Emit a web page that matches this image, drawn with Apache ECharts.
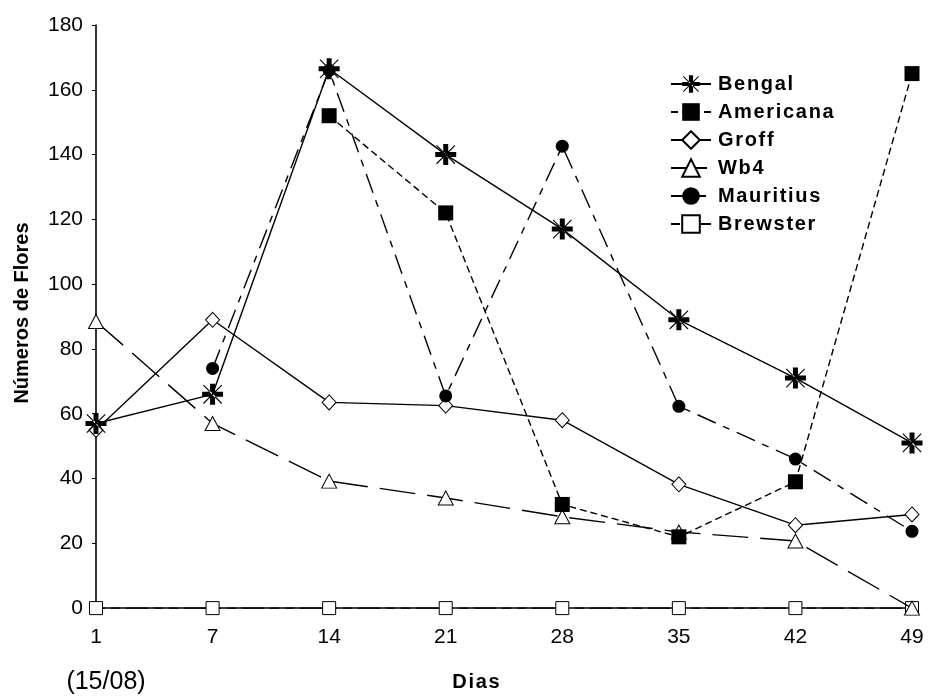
<!DOCTYPE html>
<html>
<head>
<meta charset="utf-8">
<script src="https://cdn.jsdelivr.net/npm/echarts@6/dist/echarts.min.js"></script>
<style>html,body{margin:0;padding:0;background:#fff;}#c{width:928px;height:697px;}</style>
</head>
<body>
<div id="c"></div>
<script>
const days = ['1', '7', '14', '21', '28', '35', '42', '49'];
const yTicks = [0, 20, 40, 60, 80, 100, 120, 140, 160, 180];
const bengal = [57, 66, 166.5, 140, 117, 89, 71, 51];
const americana = [null, null, 152, 122, 32, 22, 39, 165];
const groff = [55, 89, 63.5, 62.5, 58, 38.2, 25.6, 28.9];
const wb4 = [88.5, 57, 39.2, 34, 28.2, 23.5, 20.7, 0];
const mauritius = [null, 74, 166, 65.5, 142.6, 62.3, 46, 23.7];
const brewster = [0, 0, 0, 0, 0, 0, 0, 0];

const FONT = '"Liberation Sans", Arial, Helvetica, sans-serif';
const starPath = 'path://M-1.9,-8L1.9,-8L1.9,-1.9L8,-1.9L8,1.9L1.9,1.9L1.9,8L-1.9,8L-1.9,1.9L-8,1.9L-8,-1.9L-1.9,-1.9Z' +
  'M-6.7,-7.3L-7.3,-6.7L6.7,7.3L7.3,6.7Z M6.7,-7.3L7.3,-6.7L-6.7,7.3L-7.3,6.7Z';
const spaced = s => s.split('').join('\u200A');

function mk(name, data, symbol, size, fill, dash, z) {
  return {
    name: name, type: 'line', data: data, symbol: symbol, symbolSize: size,
    showAllSymbol: true, connectNulls: false, clip: false, z: z,
    symbolKeepAspect: true,
    lineStyle: { color: '#000', width: 1.4, type: dash },
    itemStyle: { color: fill, borderColor: '#000', borderWidth: fill === '#fff' ? 1 : 0 },
    emphasis: { disabled: true },
    animation: false
  };
}

const chart = echarts.init(document.getElementById('c'), null, { renderer: 'canvas' });
chart.setOption({
  backgroundColor: '#fff',
  animation: false,
  grid: { left: 96, right: 16, top: 25, bottom: 85, containLabel: false },
  xAxis: {
    type: 'category', data: days, boundaryGap: false,
    axisLine: { lineStyle: { color: '#000', width: 1.6 } },
    axisTick: { show: true, length: 4, alignWithLabel: true, lineStyle: { color: '#000' } },
    axisLabel: { color: '#000', fontSize: 21, fontFamily: FONT, margin: 15 },
    splitLine: { show: false }
  },
  yAxis: {
    type: 'value', min: -1.2, max: 180,
    axisLine: { show: true, lineStyle: { color: '#000', width: 1.6 } },
    axisTick: { show: true, length: 4, customValues: yTicks, lineStyle: { color: '#000' } },
    axisLabel: { color: '#000', fontSize: 21, fontFamily: FONT, margin: 13, customValues: yTicks },
    splitLine: { show: false }
  },
  legend: {
    orient: 'vertical', left: 665, top: 69,
    itemWidth: 40, itemHeight: 22, itemGap: 8,
    data: ['Bengal', 'Americana', 'Groff', 'Wb4', 'Mauritius', 'Brewster'],
    formatter: spaced,
    textStyle: { color: '#000', fontSize: 20, fontWeight: 'bold', fontFamily: FONT, padding: [0, 0, 0, 2] },
    selectedMode: false
  },
  graphic: [
    { type: 'text', x: 22, y: 313, rotation: Math.PI / 2,
      style: { text: 'Números de Flores', font: 'bold 20px ' + FONT, fill: '#000', align: 'center', verticalAlign: 'middle' } },
    { type: 'text', x: 476, y: 682,
      style: { text: spaced('Dias'), font: 'bold 20px ' + FONT, fill: '#000', align: 'center', verticalAlign: 'middle' } },
    { type: 'text', x: 106, y: 682,
      style: { text: '(15/08)', font: '25px ' + FONT, fill: '#000', align: 'center', verticalAlign: 'middle' } }
  ],
  series: [
    mk('Brewster', brewster, 'rect', 13, '#fff', [9, 6, 9, 6, 22, 6], 2),
    mk('Wb4', wb4, 'triangle', [15, 14], '#fff', [36, 12], 3),
    mk('Groff', groff, 'diamond', [14, 15], '#fff', 'solid', 4),
    mk('Americana', americana, 'rect', 15, '#000', [7, 4], 5),
    mk('Mauritius', mauritius, 'circle', 13, '#000', [20, 8, 7, 8], 6),
    mk('Bengal', bengal, starPath, 21, '#000', 'solid', 7)
  ]
});
</script>
</body>
</html>
